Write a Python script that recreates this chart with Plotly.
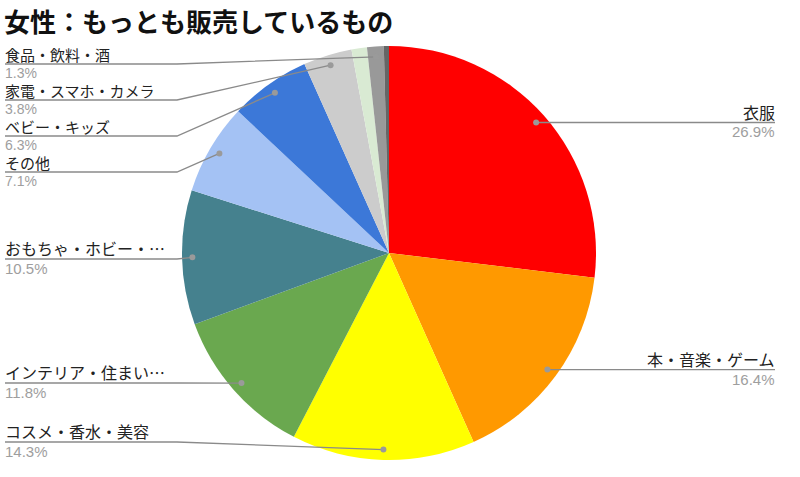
import math
import plotly.graph_objects as go

# ---- data ----
categories = ["衣服", "本・音楽・ゲーム", "コスメ・香水・美容", "インテリア・住まい…",
              "おもちゃ・ホビー・…", "その他", "ベビー・キッズ", "家電・スマホ・カメラ",
              "（その他小）", "食品・飲料・酒", "（その他極小）"]
values = [26.9, 16.4, 14.3, 11.8, 10.5, 7.1, 6.3, 3.8, 1.2, 1.3, 0.4]
show_label = [True, True, True, True, True, True, True, True, False, True, False]
colors = ["#ff0000", "#ff9900", "#ffff00", "#6aa84f", "#45818e", "#a4c2f4",
          "#3c78d8", "#cccccc", "#d9ead3", "#999999", "#666666"]

title = "女性：もっとも販売しているもの"

# ---- layout constants (pixels) ----
W, H = 800, 477
CX, CY, R = 389, 253, 207
FONT = "Noto Sans CJK JP"
PCT_FONT = "Liberation Sans"
# left-side label line y positions (by category index)
left_label_y = {9: 64, 7: 100, 6: 136, 5: 172, 4: 259, 3: 383, 2: 442}
LEFT_X, BEND_X, RIGHT_X = 5, 177, 775


def px(x):
    return x / W


def py(y):
    return 1 - y / H


fig = go.Figure(go.Pie(
    labels=categories, values=values, sort=False, direction="clockwise",
    rotation=0, marker=dict(colors=colors, line=dict(width=0)),
    textinfo="none", hoverinfo="label+percent",
    domain=dict(x=[px(CX - R), px(CX + R)], y=[py(CY + R), py(CY - R)]),
    showlegend=False,
))

total = sum(values)
shapes = []
annotations = []
cum = 0.0
for i, (cat, v) in enumerate(zip(categories, values)):
    mid = (cum + v / 2) / total * 2 * math.pi
    cum += v
    if not show_label[i]:
        continue
    dx = CX + 0.95 * R * math.sin(mid)
    dy = CY - 0.95 * R * math.cos(mid)
    pct = f"{v:.1f}%"
    compact = False
    if math.sin(mid) > 0:
        ly = dy
        path = f"M {px(dx)},{py(ly)} L {px(RIGHT_X)},{py(ly)}"
        ax, anchor = RIGHT_X, "right"
    else:
        ly = left_label_y[i]
        compact = any(0 < abs(ly - o) < 45 for o in left_label_y.values())
        bx = min(BEND_X, dx - 8)
        path = (f"M {px(LEFT_X)},{py(ly)} L {px(bx)},{py(ly)} "
                f"L {px(dx)},{py(dy)}")
        ax, anchor = LEFT_X, "left"
    name_size, pct_size = (15, 14) if compact else (16, 15)
    shapes.append(dict(type="path", xref="paper", yref="paper", path=path,
                       line=dict(color="#8a8a8a", width=1.3)))
    shapes.append(dict(type="circle", xref="paper", yref="paper",
                       x0=px(dx - 3), x1=px(dx + 3), y0=py(dy + 3), y1=py(dy - 3),
                       fillcolor="#9a9a9a", line=dict(width=0)))
    annotations.append(dict(x=px(ax), y=py(ly + 1.2), xref="paper", yref="paper",
                            text=cat, showarrow=False, xanchor=anchor,
                            yanchor="bottom", borderpad=0, borderwidth=0,
                            font=dict(family=FONT, size=name_size, color="#222222")))
    annotations.append(dict(x=px(ax), y=py(ly + 1.0), xref="paper", yref="paper",
                            text=pct, showarrow=False, xanchor=anchor,
                            yanchor="top", borderpad=0, borderwidth=0,
                            font=dict(family=PCT_FONT, size=pct_size, color="#9e9e9e")))

annotations.append(dict(x=px(4), y=py(2), xref="paper", yref="paper",
                        text=f"<b>{title}</b>", showarrow=False,
                        xanchor="left", yanchor="top", borderpad=0, borderwidth=0,
                        font=dict(family=FONT, size=26, color="#111111")))

fig.update_layout(
    width=W, height=H, margin=dict(l=0, r=0, t=0, b=0),
    paper_bgcolor="white", plot_bgcolor="white",
    shapes=shapes, annotations=annotations,
    font=dict(family=FONT),
)

fig.write_html("out.html", config={"displayModeBar": False},
               post_script="document.body.style.margin='0';")
